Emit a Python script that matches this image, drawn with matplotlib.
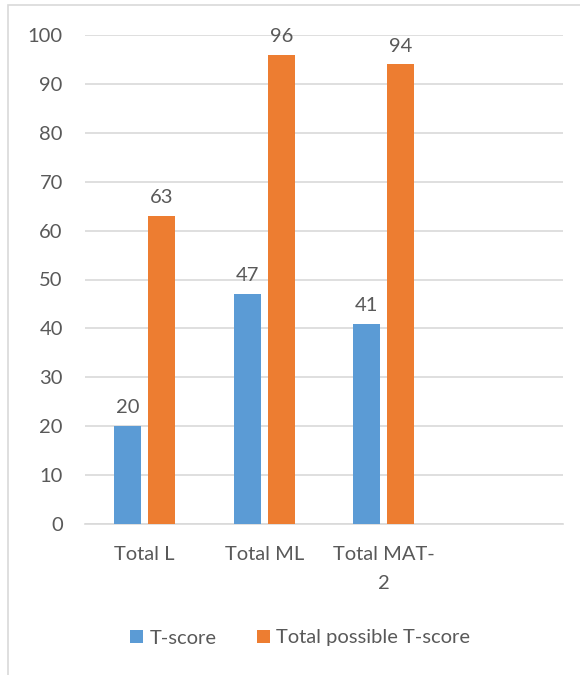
import numpy as np
import matplotlib.pyplot as plt
from matplotlib.patches import Rectangle

categories = ["Total L", "Total ML", "Total MAT-\n2", ""]
t_score = [20, 47, 41]
total_possible = [63, 96, 94]
y_ticks = list(range(0, 101, 10))

blue = "#5b9bd5"
orange = "#ed7d31"
text_col = "#595959"
grid_col = "#d9d9d9"
fs = 14.5

plt.rcParams["font.family"] = ["Lato", "DejaVu Sans"]

fig = plt.figure(figsize=(5.8, 6.75), dpi=100)
ax = fig.add_axes([85 / 580, 1 - 524 / 675, 478 / 580, 489 / 675])

# chart frame
fig.patches.append(Rectangle((8 / 580, -0.05), 1.0, 1 - 5 / 675 + 0.05,
                             transform=fig.transFigure, fill=False,
                             edgecolor=grid_col, linewidth=1.2))

x = np.arange(len(t_score))
w = 0.226
off = 0.142
b1 = ax.bar(x - off, t_score, w, color=blue, label="T-score", zorder=3)
b2 = ax.bar(x + off, total_possible, w, color=orange,
            label="Total possible T-score", zorder=3)

for bars in (b1, b2):
    for rect in bars:
        h = rect.get_height()
        ax.annotate(f"{h:g}", (rect.get_x() + rect.get_width() / 2, h),
                    xytext=(0, 7), textcoords="offset points",
                    ha="center", va="bottom", fontsize=fs, color=text_col)

ax.set_xlim(-0.5, len(categories) - 0.5)
ax.set_ylim(0, 100)
ax.set_yticks(y_ticks)
ax.set_xticks(range(len(categories)))
ax.set_xticklabels(categories, linespacing=1.86)
ax.tick_params(axis="both", length=0, labelsize=fs, labelcolor=text_col)
ax.tick_params(axis="y", pad=16)
ax.tick_params(axis="x", pad=15.5)
ax.yaxis.grid(True, color=grid_col, linewidth=1.2, zorder=0)
for side in ("top", "right", "left"):
    ax.spines[side].set_visible(False)
ax.spines["bottom"].set_color(grid_col)
ax.spines["bottom"].set_linewidth(1.2)

fig.legend(loc="center", bbox_to_anchor=(300 / 580, 1 - 638 / 675), ncol=2,
           frameon=False, fontsize=fs, labelcolor=text_col, handlelength=0.65,
           handleheight=0.65, handletextpad=0.3, columnspacing=2.0)

fig.savefig("out.png", dpi=100)
